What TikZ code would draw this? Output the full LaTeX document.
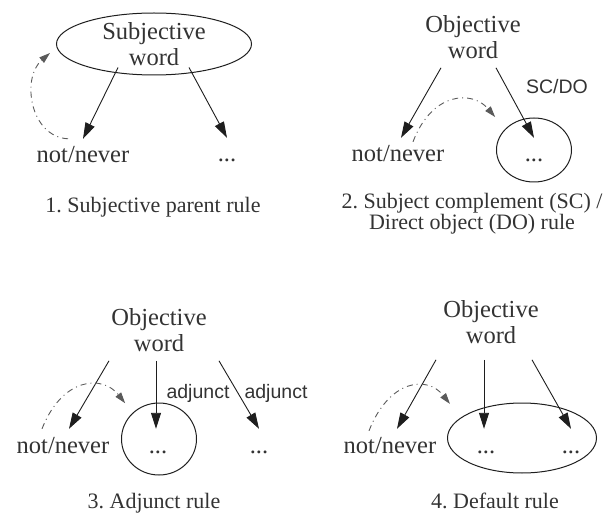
\documentclass[tikz,border=0pt]{standalone}
\usepackage{fontspec}
\setmainfont{Liberation Serif}
\setsansfont{Liberation Sans}
\usetikzlibrary{shapes.geometric,arrows.meta}
\definecolor{inkgray}{HTML}{333333}
\definecolor{linegray}{HTML}{1E1E1E}
\definecolor{dashgray}{HTML}{5A5A5A}
\frenchspacing

\begin{document}
\begin{tikzpicture}[x=1pt,y=-1pt,
wordnode/.style={text=inkgray, font=\fontsize{24.5}{26}\selectfont, align=center, inner xsep=0pt, inner ysep=9pt},
leafnode/.style={text=inkgray, font=\fontsize{24.5}{26}\selectfont, anchor=base, text height=17pt, text depth=5pt, inner xsep=2pt, inner ysep=7pt},
groupnode/.style={ellipse, draw=linegray, line width=1pt, inner sep=0pt},
labelnode/.style={text=inkgray, font=\sffamily\fontsize{19.5}{22}\selectfont, anchor=base, inner sep=0pt},
captionnode/.style={text=inkgray, font=\fontsize{22}{21}\selectfont, align=center, anchor=base, inner sep=0pt},
edge/.style={draw=linegray, line width=0.9pt, -{Triangle[length=16pt,width=10pt]}},
negedge/.style={draw=dashgray, line width=0.9pt, dash pattern=on 6pt off 4pt on 1pt off 4pt, -{Triangle[length=11pt,width=7pt]}}
]
\useasboundingbox (0,0) rectangle (608,513);
%Nodes
\node[wordnode, groupnode, minimum width=195pt, minimum height=62pt] (subj) at (154,44) {Subjective\\word};
\node[leafnode] (nn1) at (83,163) {not/never};
\node[leafnode] (dd1) at (227,162) {...};
\node[captionnode] (cap1) at (153,213) {1. Subjective parent rule};

\node[wordnode] (obj2) at (473,37) {Objective\\word};
\node[groupnode, minimum width=75pt, minimum height=64pt] (grp2) at (534,150) {};
\node[leafnode] (nn2) at (398,162) {not/never};
\node[leafnode] (dd2) at (534,162) {...};
\node[labelnode] (sc2) at (557,94) {SC/DO};
\node[captionnode, anchor=center] (cap2) at (472,214) {2. Subject complement (SC) /\\Direct object (DO) rule};

\node[wordnode] (obj3) at (159,330) {Objective\\word};
\node[groupnode, minimum width=75pt, minimum height=72pt] (grp3) at (159,439) {};
\node[leafnode] (nn3) at (63,453) {not/never};
\node[leafnode] (dd3) at (158,453) {...};
\node[leafnode] (de3) at (259,453) {...};
\node[labelnode] (adj3a) at (198,398) {adjunct};
\node[labelnode] (adj3b) at (276,398) {adjunct};
\node[captionnode] (cap3) at (154,508) {3. Adjunct rule};

\node[wordnode] (obj4) at (491,322) {Objective\\word};
\node[groupnode, minimum width=149pt, minimum height=70pt] (grp4) at (522,438) {};
\node[leafnode] (nn4) at (390,453) {not/never};
\node[leafnode] (dd4) at (486,453) {...};
\node[leafnode] (de4) at (571,453) {...};
\node[captionnode] (cap4) at (495,508) {4. Default rule};

%Lines
\draw[edge] ([xshift=-36pt,yshift=8pt]subj.south) -- (nn1.north);
\draw[edge] ([xshift=35pt,yshift=8pt]subj.south) -- (dd1.north);
\draw[negedge] ([xshift=-15pt]nn1.north) .. controls +(-38,-2) and +(-29,25) .. ([xshift=-6pt,yshift=-9pt]subj.west);

\draw[edge] ([xshift=-32pt]obj2.south) -- ([xshift=3pt]nn2.north);
\draw[edge] ([xshift=23pt]obj2.south) -- (dd2.north);
\draw[negedge] ([xshift=15pt,yshift=-4pt]nn2.north) .. controls +(19,-50) and +(-23,-27) .. ([xshift=-12pt,yshift=10pt]grp2.north west);

\draw[edge] ([xshift=-50pt]obj3.south) -- ([xshift=6pt]nn3.north);
\draw[edge] ([xshift=-3pt]obj3.south) -- ([xshift=-2pt]dd3.north);
\draw[edge] ([xshift=60pt]obj3.south) -- (de3.north);
\draw[negedge] ([xshift=-21pt]nn3.north) .. controls +(20,-51) and +(-23,-29) .. ([xshift=-7pt,yshift=10pt]grp3.north west);

\draw[edge] ([xshift=-55pt,yshift=-7pt]obj4.south) -- ([xshift=7pt]nn4.north);
\draw[edge] ([xshift=-7pt,yshift=-7pt]obj4.south) -- ([xshift=-2pt]dd4.north);
\draw[edge] ([xshift=41pt,yshift=-7pt]obj4.south) -- (de4.north);
\draw[negedge] ([xshift=-21pt,yshift=-2pt]nn4.north) .. controls +(20,-51) and +(-23,-29) .. ([xshift=-19pt,yshift=9pt]grp4.north west);
\end{tikzpicture}
\end{document}
